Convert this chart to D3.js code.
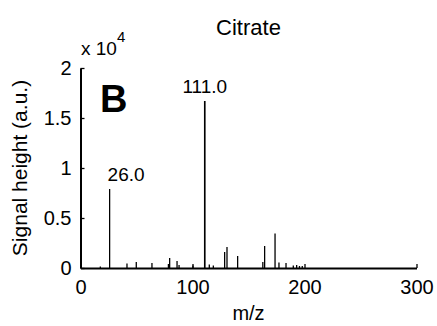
<!DOCTYPE html>
<html>
<head>
<meta charset="utf-8">
<script src="https://cdn.jsdelivr.net/npm/d3@7"></script>
<style>
  body { margin: 0; background: #fff; }
  svg text { font-family: "Liberation Sans", Arial, Helvetica, sans-serif; fill: #000; }
</style>
</head>
<body>
<div id="chart"></div>
<script>
// spectrum sticks: m/z and signal height (a.u.)
const mz = [17.7, 26.0, 41.5, 49.8, 63.8, 78.5, 79.6, 86.2, 88.0, 100.4,
  110.8, 111.0, 115.0, 118.6, 128.7, 130.8, 140.3, 162.8, 164.4, 173.7,
  177.2, 183.5, 190.0, 193.0, 195.5, 198.0];
const height = [150, 7900, 450, 600, 500, 400, 1000, 700, 300, 250,
  16700, 16700, 350, 250, 1600, 2100, 1200, 600, 2200, 3450,
  550, 500, 250, 300, 200, 200];
const peakLabels = [{ mz: 26.0, h: 7900, text: '26.0' }, { mz: 111.0, h: 16700, text: '111.0' }];
const xTicks = [0, 100, 200, 300];
const yTicks = [0, 5000, 10000, 15000, 20000];

const W = 437, H = 326;
const x = d3.scaleLinear().domain([0, 300]).range([80.5, 416.5]);
const y = d3.scaleLinear().domain([0, 20000]).range([268, 68]);

const svg = d3.select('#chart').append('svg')
  .attr('width', W).attr('height', H);

// sticks
svg.append('g')
  .selectAll('line')
  .data(mz.map((m, i) => ({ m, h: height[i] })))
  .enter()
  .append('line')
  .attr('x1', d => x(d.m)).attr('x2', d => x(d.m))
  .attr('y1', y(0)).attr('y2', d => y(d.h))
  .attr('stroke', '#000')
  .attr('stroke-width', 1.3);

// axes, MATLAB style ticks pointing inward
const xAxis = svg.append('g')
  .attr('transform', `translate(0,${y(0)})`)
  .call(d3.axisBottom(x).tickValues(xTicks).tickSizeInner(-4).tickSizeOuter(0).tickPadding(12));
const yAxis = svg.append('g')
  .attr('transform', `translate(${x(0)},0)`)
  .call(d3.axisLeft(y).tickValues(yTicks).tickSizeInner(-4).tickSizeOuter(0)
    .tickPadding(9).tickFormat(d => d3.format('~g')(d / 10000)));

[xAxis, yAxis].forEach(a => {
  a.select('.domain').attr('stroke', '#000').attr('stroke-width', 2);
  a.selectAll('.tick line').attr('stroke', '#000').attr('stroke-width', 1.3);
  a.selectAll('.tick text').attr('font-size', 20).attr('font-family', null).attr('fill', '#000');
});
xAxis.selectAll('.tick text').attr('dy', '0.71em');

// peak labels: the low one starts at its stick, the tall one is centred
svg.append('g')
  .selectAll('text')
  .data(peakLabels)
  .enter()
  .append('text')
  .attr('x', (d, i) => x(d.mz) - (i === 0 ? 2 : 0))
  .attr('y', d => y(d.h) - 8)
  .attr('text-anchor', (d, i) => i === 0 ? 'start' : 'middle')
  .attr('font-size', 19)
  .text(d => d.text);

// title and labels
svg.append('text')
  .attr('x', (x(0) + x(300)) / 2).attr('y', 35)
  .attr('text-anchor', 'middle')
  .attr('font-size', 22)
  .text('Citrate');

svg.append('text')
  .attr('x', (x(0) + x(300)) / 2).attr('y', 320)
  .attr('text-anchor', 'middle')
  .attr('font-size', 20)
  .text('m/z');

svg.append('text')
  .attr('transform', `translate(27,${(y(0) + y(20000)) / 2}) rotate(-90)`)
  .attr('text-anchor', 'middle')
  .attr('font-size', 21)
  .text('Signal height (a.u.)');

const mult = svg.append('text').attr('x', 81).attr('y', 55).attr('font-size', 19);
mult.append('tspan').text('x 10');
mult.append('tspan').attr('dy', -13).attr('font-size', 15).text('4');

svg.append('text')
  .attr('x', 100).attr('y', 112)
  .attr('font-size', 38)
  .attr('font-weight', 'bold')
  .text('B');
</script>
</body>
</html>
